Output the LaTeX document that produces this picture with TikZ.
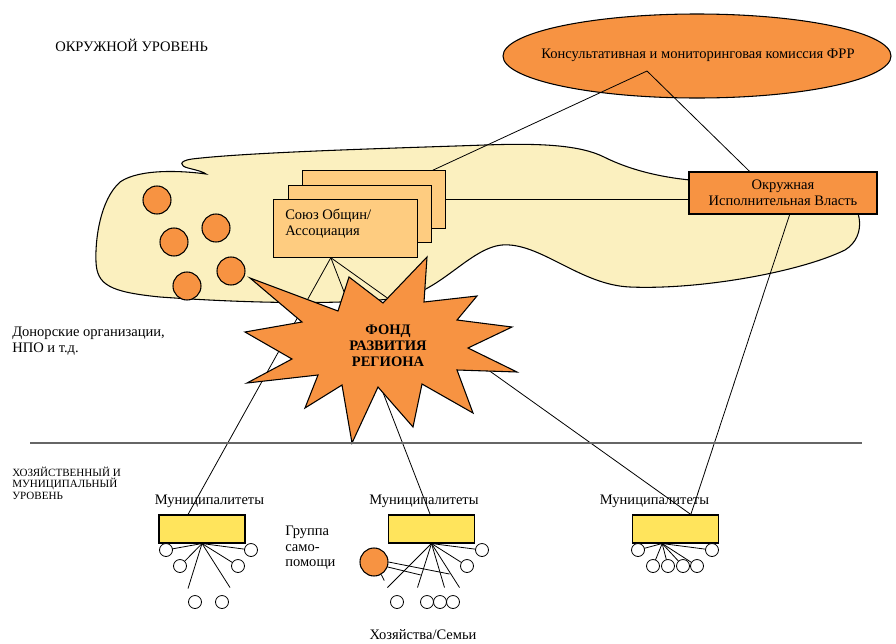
\documentclass[tikz,border=0pt]{standalone}
\usepackage{fontspec}
\setmainfont{Liberation Serif}
\usetikzlibrary{shapes.geometric}

\definecolor{fndorange}{RGB}{247,147,66}
\definecolor{blobfill}{RGB}{251,240,191}
\definecolor{stackfill}{RGB}{254,204,128}
\definecolor{munifill}{RGB}{255,228,92}

\begin{document}
\begin{tikzpicture}[x=0.75pt, y=-0.75pt, font=\fontsize{10.9}{12}\selectfont,
  every node/.style={inner sep=0pt},
  link/.style={black, line width=0.6pt},
  stackbox/.style={draw, fill=stackfill, line width=0.8pt, minimum width=107.5pt, minimum height=43pt},
  munibox/.style={draw, fill=munifill, line width=0.8pt, minimum width=64.5pt, minimum height=21pt},
  hh/.style={draw, fill=white, line width=0.6pt},
  member/.style={draw, fill=fndorange, line width=0.8pt}]

\useasboundingbox (0,0) rectangle (896,643);

% --- Okrug level: region outline ---
\draw[fill=blobfill, line width=0.8pt]
  (206,174) .. controls (185,171) and (140,168) .. (120,182)
  .. controls (100,200) and (95,240) .. (96,262)
  .. controls (97,285) and (110,292) .. (160,297)
  .. controls (230,302) and (330,306) .. (400,298)
  .. controls (440,292) and (470,248) .. (502,245)
  .. controls (540,242) and (580,285) .. (630,287)
  .. controls (700,290) and (800,272) .. (845,250)
  .. controls (868,236) and (862,202) .. (840,194)
  .. controls (800,184) and (720,184) .. (690,180)
  .. controls (660,177) and (630,170) .. (604,157)
  .. controls (580,145) and (540,143) .. (485,145)
  .. controls (400,148) and (250,152) .. (192,159)
  .. controls (178,161) and (180,166) .. (188,168)
  .. controls (196,170) and (204,172) .. (206,174) -- cycle;

% Donor circles
\foreach \x/\y [count=\i] in {157/200, 216/228, 174/242, 231/271, 187/286}
  \node[member, circle, minimum size=21pt] (m\i) at (\x,\y) {};

% Stacked boxes
\node[stackbox] (soyuzback) at (374,199.5) {};
\node[stackbox] (soyuzmid)  at (360,214) {};
\node[stackbox] (soyuz)     at (345.5,228.5) {};
\node[anchor=west, align=left] (soyuztxt) at (285,224) {Союз Общин/\\Ассоциация};

% Okrug authority and commission
\node[draw, fill=fndorange, line width=0.8pt, minimum width=141pt, minimum height=31.5pt,
      align=center] (okrug) at (783,193) {Окружная\\Исполнительная Власть};
\node[draw, ellipse, fill=fndorange, line width=0.8pt, minimum width=291pt,
      minimum height=63pt] (kom) at (697,56) {};
\node (komtxt) at (698,55) {Консультативная и мониторинговая комиссия ФРР};
\coordinate (komtip) at (647,71);

\node[anchor=west] (okrlevel) at (55,45) {ОКРУЖНОЙ УРОВЕНЬ};
\node[anchor=west, align=left] (donors) at (12,341) {Донорские организации,\\НПО и т.д.};

% --- Municipal level ---
\node[munibox] (muni1) at (202,529) {};
\node[munibox] (muni2) at (431.5,529) {};
\node[munibox] (muni3) at (675.5,529) {};
\node (munilab1) at (209.5,501) {Муниципалитеты};
\node (munilab2) at (424,501) {Муниципалитеты};
\node (munilab3) at (654.5,501) {Муниципалитеты};

% Connectors
\draw[link] (komtip) -- ([xshift=44pt]soyuzback.north);
\draw[link] (komtip) -- ([xshift=-25pt]okrug.north);
\draw[link] (soyuzback.east) -- (soyuzback.east -| okrug.west);
\draw[link] ([xshift=5pt]okrug.south) -- ([xshift=11.5pt]muni3.north);
\foreach \m/\s in {muni1/-10.5pt, muni2/-1pt, muni3/11.5pt}
  \draw[link] ([xshift=-11pt]soyuz.south) -- ([xshift=\s]\m.north);

% Fund star
\draw[fill=fndorange, line width=0.8pt]
  (250,278) -- (338,311) -- (349,277) -- (383,303) -- (427,257) -- (424,302)
  -- (477,296) -- (457,320) -- (512,327) -- (468,348) -- (517,372) -- (457,370)
  -- (473,413) -- (422,384) -- (413,427) -- (378,387) -- (352,443) -- (342,385)
  -- (305,408) -- (318,375) -- (247,383) -- (292,359) -- (245,332) -- (302,322)
  -- cycle;
\node[font=\fontsize{10.9}{12}\selectfont\bfseries, align=center] (fond) at (388,346)
  {ФОНД\\РАЗВИТИЯ\\РЕГИОНА};

% Level divider
\draw[line width=1.5pt, black!60] (30,443) -- (862,443);
\node[anchor=west, align=left, font=\fontsize{8.3}{8.7}\selectfont] (hozlevel) at (12,483)
  {ХОЗЯЙСТВЕННЫЙ И\\МУНИЦИПАЛЬНЫЙ\\УРОВЕНЬ};

% Households of municipality 1
\foreach \dx/\dy in {-14/45, 28/44}
  \draw[link] (muni1.south) -- ++(\dx,\dy);
\foreach \x/\y [count=\i] in {166/550, 180/566, 238/566, 251/550} {
  \draw[link] (muni1.south) -- (\x,\y);
  \node[hh, circle, minimum size=9.75pt] (a\i) at (\x,\y) {};
}
\foreach \x [count=\i] in {195, 222}
  \node[hh, circle, minimum size=9.75pt] (ab\i) at (\x,602) {};

% Households of municipality 2
\foreach \dx/\dy in {-44/44, -14/44, 13/44, 28/44}
  \draw[link] (muni2.south) -- ++(\dx,\dy);
\foreach \x/\y [count=\i] in {467/566, 482/550} {
  \draw[link] (muni2.south) -- (\x,\y);
  \node[hh, circle, minimum size=9.75pt] (b\i) at (\x,\y) {};
}
\foreach \x [count=\i] in {397, 427, 440, 453}
  \node[hh, circle, minimum size=9.75pt] (bb\i) at (\x,602) {};
\node[member, circle, minimum size=21pt] (selfhelp) at (374,562) {};
\draw[link] (selfhelp.east) -- ++(61,12);
\draw[link] (selfhelp.-20) -- ++(33,8);
\draw[link] (selfhelp.-60) -- ++(3,6);
\node[anchor=west, align=left, font=\fontsize{10.9}{11.6}\selectfont] (grouplab) at (285,548)
  {Группа\\само-\\помощи};

% Households of municipality 3
\foreach \x/\y [count=\i] in {638/550, 653/566, 668/566, 683/566, 697/566, 712/550} {
  \draw[link] ([xshift=-10pt]muni3.south) -- (\x,\y);
  \node[hh, circle, minimum size=9.75pt] (c\i) at (\x,\y) {};
}

\node (hozlab) at (423,635) {Хозяйства/Семьи};

\end{tikzpicture}
\end{document}
